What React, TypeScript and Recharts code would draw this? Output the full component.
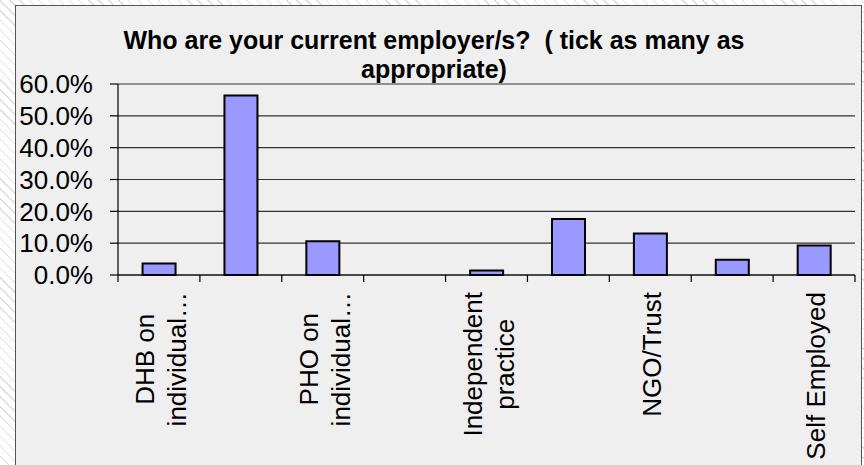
import { Bar, BarChart, CartesianGrid, XAxis, YAxis } from "recharts";

const FONT = "'Liberation Sans', Arial, sans-serif";

const titleLines = ["Who are your current employer/s?  ( tick as many as", "appropriate)"];

// one entry per category; Excel only printed every second label
const tickLabels: string[][] = [
  ["DHB on", "individual…"],
  [],
  ["PHO on", "individual…"],
  [],
  ["Independent", "practice"],
  [],
  ["NGO/Trust"],
  [],
  ["Self Employed"],
];

const shares = [0.036, 0.564, 0.106, 0, 0.014, 0.176, 0.13, 0.048, 0.093];

const yTicks = [0, 0.1, 0.2, 0.3, 0.4, 0.5, 0.6];

const data = shares.map((value, i) => ({ id: i, value }));

const WIDTH = 864;
const HEIGHT = 465;
const PLOT_LEFT = 118;
const PLOT_RIGHT = 855;
const BAND = (PLOT_RIGHT - PLOT_LEFT) / data.length;

let ctx: CanvasRenderingContext2D | null = null;
const measure = (text: string) => {
  if (!ctx) {
    ctx = document.createElement("canvas").getContext("2d");
  }
  if (!ctx) return text.length * 13;
  ctx.font = `26px ${FONT}`;
  return ctx.measureText(text).width;
};

const CategoryTick = (props: any) => {
  const { x, y, index } = props;
  const lines = tickLabels[index] || [];
  const longest = Math.max(0, ...lines.map(measure));
  const center = -17 - longest / 2;
  return (
    <g>
      <line x1={x - BAND / 2} y1={y} x2={x - BAND / 2} y2={y + 7} stroke="#000" strokeWidth={1.2} />
      {index === data.length - 1 && (
        <line x1={x + BAND / 2} y1={y} x2={x + BAND / 2} y2={y + 7} stroke="#000" strokeWidth={1.2} />
      )}
      <g transform={`translate(${x},${y}) rotate(-90)`}>
        {lines.map((line, i) => (
          <text
            key={i}
            x={center}
            y={11 + (i - (lines.length - 1) / 2) * 32}
            textAnchor="middle"
            fontSize={26}
            fontFamily={FONT}
            fill="#000"
          >
            {line}
          </text>
        ))}
      </g>
    </g>
  );
};

const App = () => {
  return (
    <div
      style={{
        position: "absolute",
        left: 0,
        top: 0,
        width: WIDTH,
        height: HEIGHT,
        overflow: "hidden",
        background:
          "repeating-linear-gradient(45deg, #ffffff 0px, #ffffff 6px, #dcdcdc 6px, #dcdcdc 7px)",
      }}
    >
      <div
        style={{
          position: "absolute",
          left: 15,
          top: 5,
          width: 845,
          height: 480,
          background: "#efefef",
          border: "1.5px solid #555",
        }}
      />
      <div style={{ position: "absolute", left: 0, top: 0 }}>
        <BarChart
          width={WIDTH}
          height={HEIGHT}
          data={data}
          margin={{ top: 84, right: WIDTH - PLOT_RIGHT, left: PLOT_LEFT - 100, bottom: 10 }}
          barCategoryGap="30%"
        >
          <CartesianGrid vertical={false} stroke="#333" strokeWidth={1.2} />
          <XAxis
            dataKey="id"
            type="category"
            height={180}
            interval={0}
            tickLine={false}
            tickSize={0}
            tickMargin={0}
            axisLine={{ stroke: "#000", strokeWidth: 1.2 }}
            tick={<CategoryTick />}
          />
          <YAxis
            width={100}
            domain={[0, 0.6]}
            ticks={yTicks}
            interval={0}
            tickFormatter={(v: number) => `${(v * 100).toFixed(1)}%`}
            tickSize={8}
            tickMargin={17}
            axisLine={{ stroke: "#000", strokeWidth: 1.2 }}
            tickLine={{ stroke: "#000", strokeWidth: 1.2 }}
            tick={{ fill: "#000", fontSize: 26, fontFamily: FONT }}
          />
          <Bar
            dataKey="value"
            fill="#9999ff"
            stroke="#000"
            strokeWidth={2}
            isAnimationActive={false}
          />
        </BarChart>
      </div>
      <svg
        width={WIDTH}
        height={HEIGHT}
        style={{ position: "absolute", left: 0, top: 0, pointerEvents: "none" }}
      >
        {titleLines.map((line, i) => (
          <text
            key={i}
            x={434}
            y={49 + i * 29}
            textAnchor="middle"
            fontSize={25}
            fontWeight="bold"
            fontFamily={FONT}
            fill="#000"
            style={{ whiteSpace: "pre" }}
          >
            {line}
          </text>
        ))}
      </svg>
    </div>
  );
};

export default App;
